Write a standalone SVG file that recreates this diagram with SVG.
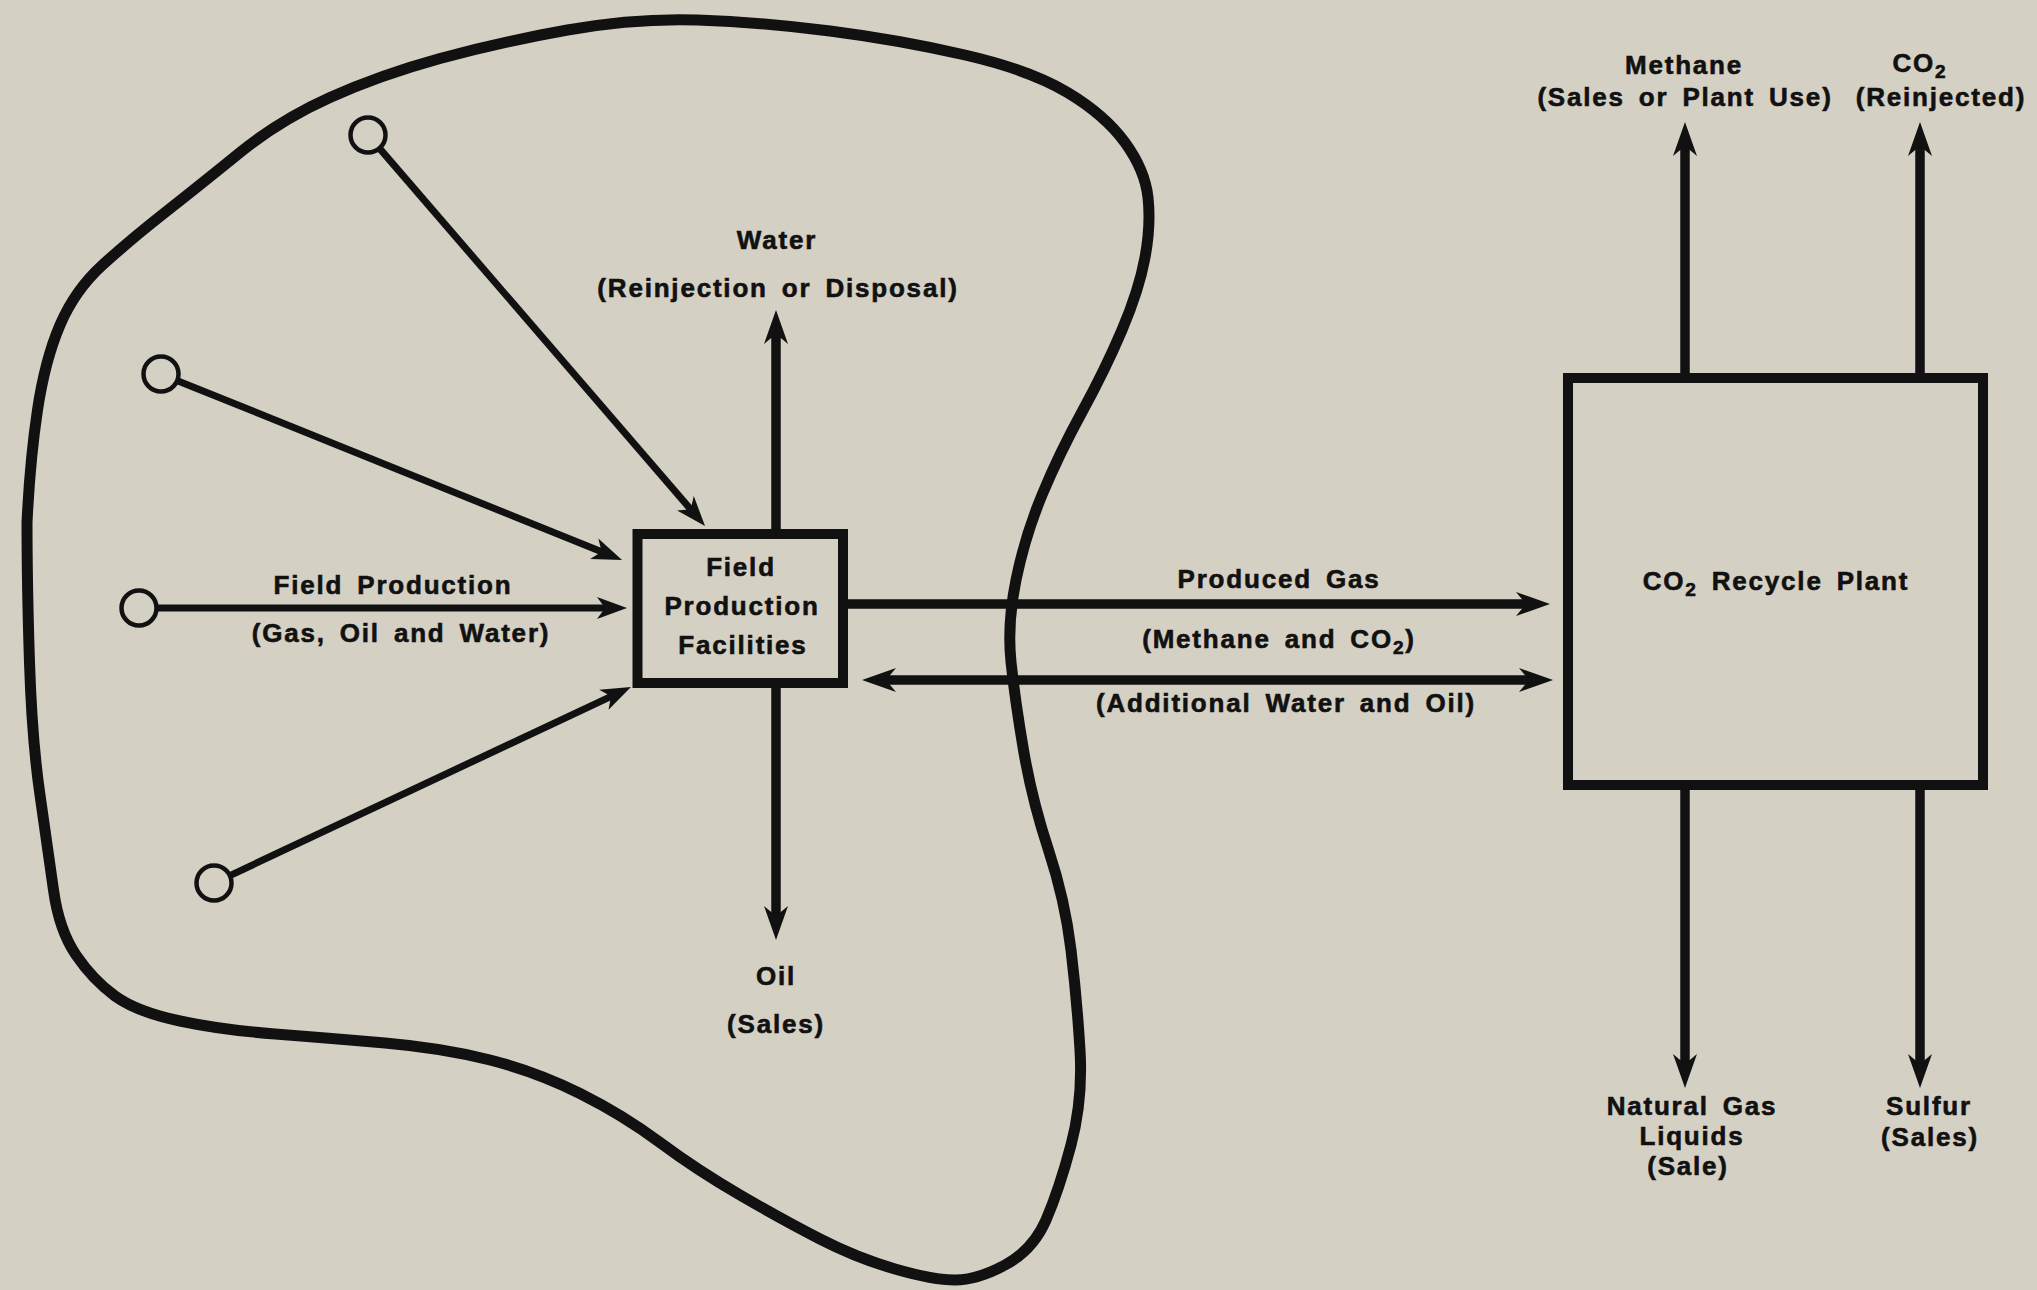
<svg xmlns="http://www.w3.org/2000/svg" width="2037" height="1290" viewBox="0 0 2037 1290">
<style>
text{font-family:"Liberation Sans",Arial,sans-serif;font-weight:bold;font-size:26px;letter-spacing:1.8px;word-spacing:5px;fill:#111;stroke:#111;stroke-width:0.6;text-anchor:middle}
.thick{stroke:#111;stroke-width:9.5;fill:none}
.well{stroke:#111;stroke-width:7;fill:none}
.box{stroke:#111;stroke-width:10;fill:none}
.wellc{stroke:#111;stroke-width:4.5;fill:none}
.sub{font-size:19px}
</style>
<defs>
<marker id="ah" viewBox="-16 -14 40 28" refX="0" refY="0" markerWidth="40" markerHeight="28" markerUnits="userSpaceOnUse" orient="auto-start-reverse">
<path d="M20,0 L-14,-12 L-4,0 L-14,12 Z" fill="#111"/>
</marker>
<marker id="ahw" viewBox="-16 -13 34 26" refX="0" refY="0" markerWidth="34" markerHeight="26" markerUnits="userSpaceOnUse" orient="auto">
<path d="M16,0 L-14,-11 L-6,0 L-14,11 Z" fill="#111"/>
</marker>
</defs>
<rect width="2037" height="1290" fill="#d5d0c4"/>
<g id="reservoir">
<path d="M27,522.5 Q30,460 37.5,410 T60,325 T102.5,265 T165,212.5 T240,152.5 T330,97.5 T440,58.5 T567.5,30 T697.5,20 T830,31 T965,55 T1067.5,92.5 T1125,142.5 T1148,197.5 T1145,257.5 T1122,330 T1082,412 T1042,495 T1016,580 T1011,662 T1023.5,750 T1048.5,850 T1071,950 T1080,1050 T1071,1145 T1046,1220 T1005,1265 T955,1280 T895,1269 T820,1239 T740,1195 T660,1142.5 T580,1093.5 T490,1060 T385,1043 T275,1034 T180,1021 T115,996 T76,955 T53.5,890 T40,795 T29.5,662.5 T27,522.5 Z" fill="none" stroke="#111" stroke-width="11"/>
</g>
<g id="connectors">
<line class="well" x1="379.1" y1="147.9" x2="694.6" y2="513.9" marker-end="url(#ahw)"/>
<line class="well" x1="176.8" y1="380.4" x2="607.2" y2="554" marker-end="url(#ahw)"/>
<line class="well" x1="156.5" y1="608" x2="611" y2="608" marker-end="url(#ahw)"/>
<line class="well" x1="229.4" y1="875.8" x2="616.5" y2="693.8" marker-end="url(#ahw)"/>
<line class="thick" x1="776" y1="534" x2="776" y2="330" marker-end="url(#ah)"/>
<line class="thick" x1="776" y1="683" x2="776" y2="920" marker-end="url(#ah)"/>
<line class="thick" x1="843" y1="604" x2="1530" y2="604" marker-end="url(#ah)"/>
<line class="thick" x1="882" y1="680" x2="1533" y2="680" marker-start="url(#ah)" marker-end="url(#ah)"/>
<line class="thick" x1="1685" y1="378" x2="1685" y2="142" marker-end="url(#ah)"/>
<line class="thick" x1="1920" y1="378" x2="1920" y2="142" marker-end="url(#ah)"/>
<line class="thick" x1="1685" y1="785" x2="1685" y2="1068" marker-end="url(#ah)"/>
<line class="thick" x1="1920" y1="785" x2="1920" y2="1068" marker-end="url(#ah)"/>
<text x="393" y="594">Field Production</text>
<text x="401" y="642">(Gas, Oil and Water)</text>
<text x="777" y="249">Water</text>
<text x="778" y="297">(Reinjection or Disposal)</text>
<text x="776" y="985">Oil</text>
<text x="776" y="1033">(Sales)</text>
<text x="1279" y="588">Produced Gas</text>
<text x="1279" y="648">(Methane and CO<tspan class="sub" dy="6">2</tspan><tspan dy="-6">)</tspan></text>
<text x="1286" y="712">(Additional Water and Oil)</text>
<text x="1684" y="74">Methane</text>
<text x="1685" y="106">(Sales or Plant Use)</text>
<text x="1920" y="72">CO<tspan class="sub" dy="6">2</tspan></text>
<text x="1941" y="106">(Reinjected)</text>
<text x="1692" y="1115">Natural Gas</text>
<text x="1692" y="1145">Liquids</text>
<text x="1688" y="1175">(Sale)</text>
<text x="1929" y="1115">Sulfur</text>
<text x="1930" y="1146">(Sales)</text>
</g>
<g id="wells">
<circle id="well-1" class="wellc" cx="368" cy="135" r="17.5"/>
<circle id="well-2" class="wellc" cx="161" cy="374" r="17.5"/>
<circle id="well-3" class="wellc" cx="139" cy="608" r="17.5"/>
<circle id="well-4" class="wellc" cx="214" cy="883" r="17.5"/>
</g>
<g id="field-production-facilities">
<rect class="box" x="637.5" y="534" width="205.5" height="149"/>
<text x="741" y="576">Field</text>
<text x="742" y="615">Production</text>
<text x="743" y="654">Facilities</text>
</g>
<g id="co2-recycle-plant">
<rect class="box" x="1568" y="378" width="415" height="407"/>
<text x="1776" y="590">CO<tspan class="sub" dy="6">2</tspan><tspan dy="-6"> Recycle Plant</tspan></text>
</g>
</svg>
